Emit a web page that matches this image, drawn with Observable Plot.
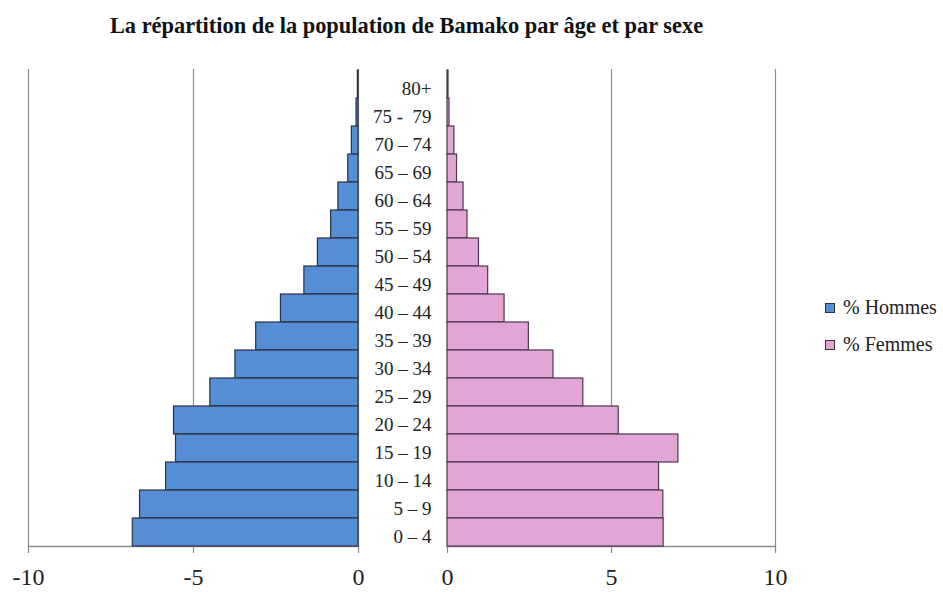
<!DOCTYPE html>
<html>
<head>
<meta charset="utf-8">
<script src="https://cdn.jsdelivr.net/npm/d3@7"></script>
<script src="https://cdn.jsdelivr.net/npm/@observablehq/plot@0.6"></script>
<style>
  html, body { margin: 0; padding: 0; background: #fff; }
  #wrap { position: relative; width: 943px; height: 592px; overflow: hidden; background: #fff; font-family: "Liberation Serif", "Times New Roman", serif; }
  #title { position: absolute; left: 0; width: 813px; top: 13px; text-align: center; font-weight: bold; font-size: 22.4px; color: #111; white-space: nowrap; }
  .panel { position: absolute; top: 0; }
  .panel svg { background: transparent !important; overflow: visible; }
  .leg { position: absolute; left: 825px; font-size: 20px; color: #222; white-space: nowrap; line-height: 1; font-family: "Liberation Serif", "Times New Roman", serif; }
  .sw { display: inline-block; width: 8px; height: 8px; border: 1px solid #333; margin-right: 8px; vertical-align: 1px; }
</style>
</head>
<body>
<div id="wrap">
  <div id="title">La répartition de la population de Bamako par âge et par sexe</div>
  <div class="panel" id="left" style="left:0px"></div>
  <div class="panel" id="right" style="left:440px"></div>
  <div class="leg" id="leg1" style="top:297px"></div>
  <div class="leg" id="leg2" style="top:334px"></div>
</div>
<script>
const ages = ["80+", "75 -  79", "70 – 74", "65 – 69", "60 – 64", "55 – 59", "50 – 54", "45 – 49", "40 – 44", "35 – 39", "30 – 34", "25 – 29", "20 – 24", "15 – 19", "10 – 14", "5 – 9", "0 – 4"];
const hommes = [0.02, 0.06, 0.20, 0.31, 0.61, 0.83, 1.23, 1.64, 2.35, 3.10, 3.73, 4.49, 5.59, 5.53, 5.83, 6.62, 6.84];
const femmes = [0.03, 0.06, 0.21, 0.29, 0.49, 0.61, 0.96, 1.24, 1.74, 2.48, 3.23, 4.14, 5.22, 7.04, 6.45, 6.58, 6.59];
const leftTicks = [-10, -5, 0];
const rightTicks = [0, 5, 10];
const seriesNames = ["% Hommes", "% Femmes"];
const seriesColors = ["#558ed5", "#e2a6d6"];

const dataH = ages.map((a, i) => ({age: a, v: -hommes[i]}));
const dataF = ages.map((a, i) => ({age: a, v: femmes[i]}));

const font = "'Liberation Serif', 'Times New Roman', serif";
const H = 592, MT = 69, MB = 46;

const left = Plot.plot({
  width: 440, height: H,
  marginLeft: 28, marginRight: 82, marginTop: MT, marginBottom: MB,
  style: {fontFamily: font, background: "transparent", color: "#222"},
  x: {domain: [-10, 0], axis: null},
  y: {domain: ages, padding: 0, axis: null},
  marks: [
    Plot.ruleX(leftTicks, {stroke: "#8c8c8c", strokeWidth: 1.2, insetBottom: -7}),
    Plot.frame({anchor: "bottom", stroke: "#8c8c8c", strokeWidth: 1.5}),
    Plot.barX(dataH, {x: "v", y: "age", fill: seriesColors[0], stroke: "#2a3140", strokeWidth: 1.2}),
    Plot.axisX({ticks: leftTicks, tickSize: 0, tickPadding: 21, fontSize: 24, label: null, tickFormat: d => String(d), fill: "#222", fontFamily: font}),
    Plot.text(ages, {x: () => 0, y: d => d, text: d => d, dx: 73, dy: 4, textAnchor: "end", fontSize: 19, fill: "#222", fontFamily: font})
  ]
});
document.getElementById("left").appendChild(left);

const right = Plot.plot({
  width: 380, height: H,
  marginLeft: 7, marginRight: 45, marginTop: MT, marginBottom: MB,
  style: {fontFamily: font, background: "transparent", color: "#222"},
  x: {domain: [0, 10], axis: null},
  y: {domain: ages, padding: 0, axis: null},
  marks: [
    Plot.ruleX(rightTicks, {stroke: "#8c8c8c", strokeWidth: 1.2, insetBottom: -7}),
    Plot.frame({anchor: "bottom", stroke: "#8c8c8c", strokeWidth: 1.5}),
    Plot.barX(dataF, {x: "v", y: "age", fill: seriesColors[1], stroke: "#4e3550", strokeWidth: 1.2}),
    Plot.axisX({ticks: rightTicks, tickSize: 0, tickPadding: 21, fontSize: 24, label: null, tickFormat: d => String(d), fill: "#222", fontFamily: font})
  ]
});
document.getElementById("right").appendChild(right);

["leg1", "leg2"].forEach((id, i) => {
  const el = document.getElementById(id);
  const sw = document.createElement("span");
  sw.className = "sw";
  sw.style.background = seriesColors[i];
  el.appendChild(sw);
  el.appendChild(document.createTextNode(seriesNames[i]));
});
</script>
</body>
</html>
